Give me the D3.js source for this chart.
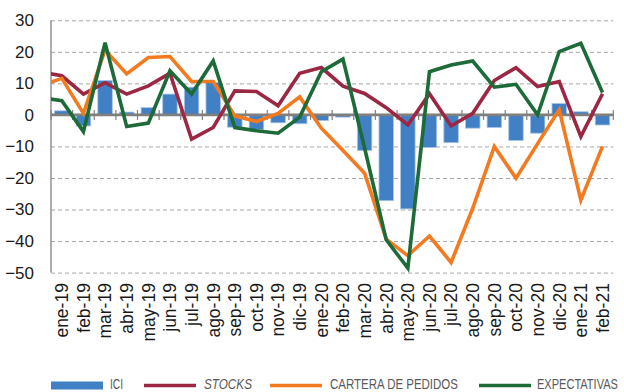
<!DOCTYPE html>
<html>
<head>
<meta charset="utf-8">
<script src="https://cdn.jsdelivr.net/npm/d3@7"></script>
<style>
  html, body { margin: 0; padding: 0; background: #fff; }
  svg { display: block; }
  text { font-family: "Liberation Sans", Arial, Helvetica, sans-serif; }
</style>
</head>
<body>
<svg id="chart" width="624" height="392"></svg>
<script>
// Monthly categories
const months = ['ene-19','feb-19','mar-19','abr-19','may-19','jun-19','jul-19','ago-19','sep-19','oct-19','nov-19','dic-19',
                'ene-20','feb-20','mar-20','abr-20','may-20','jun-20','jul-20','ago-20','sep-20','oct-20','nov-20','dic-20',
                'ene-21','feb-21'];

// ICI (bars)
const ici = [1.3, -3.5, 10.9, 0.9, 2.3, 6.6, 8.8, 10.3, -3.9, -4.6, -2.5, -2.8,
             -1.8, -0.7, -11.3, -27.2, -29.8, -10.3, -8.8, -4.2, -4.0, -8.1, -5.8, 3.6,
             1.0, -3.2];

// Stocks
const stocks = [12.4, 6.6, 10.2, 6.6, 9.2, 13.2, -7.7, -4.0, 7.6, 7.4, 2.9, 13.2,
                15.0, 9.1, 6.8, 2.3, -3.2, 6.7, -3.5, 0.5, 10.9, 15.0, 9.0, 10.6,
                -6.9, 6.7];

// Cartera de pedidos
const cartera = [11.6, 0.5, 20.6, 13.0, 18.2, 18.5, 10.6, 10.6, -0.3, -2.1, 0.5, 5.7,
                 -4.2, -11.3, -18.5, -39.4, -44.6, -38.4, -46.8, -29.6, -10.0, -20.1, -9.1, 1.6,
                 -27.0, -10.0];

// Expectativas
const expectativas = [4.5, -5.3, 22.9, -3.7, -2.6, 14.0, 6.6, 17.1, -4.0, -5.0, -5.8, -0.7,
                      13.7, 17.7, -10.5, -39.6, -48.6, 13.7, 15.8, 17.1, 8.8, 9.7, 0.0, 20.1,
                      22.7, 7.1];

// Values of the month before the first category (dic-18); only the segment up to the axis is visible
const leadStocks = 13.6;
const leadCartera = 9.2;
const leadExpectativas = 5.5;

const yTicks = [30, 20, 10, 0, -10, -20, -30, -40, -50];

const legendLabels = ['ICI', 'STOCKS', 'CARTERA DE PEDIDOS', 'EXPECTATIVAS'];

const colors = {
  ici: '#4180c4',
  stocks: '#9b2743',
  cartera: '#f47a20',
  expectativas: '#1d6b38'
};

const svg = d3.select('#chart');
const plotLeft = 51, plotRight = 613.3, plotTop = 20.3, plotBottom = 272.6;

const x = d3.scaleBand().domain(months).range([plotLeft, plotRight]).paddingInner(0.33).paddingOuter(0.165);
const y = d3.scaleLinear().domain([-50, 30]).range([plotBottom, plotTop]);
const step = x.step();
const cx = d3.scaleLinear().domain([0, months.length - 1])
  .range([x(months[0]) + x.bandwidth() / 2, x(months[months.length - 1]) + x.bandwidth() / 2]);

// Dashed gridlines
const grid = svg.append('g').attr('transform', `translate(${plotLeft},0)`)
  .call(d3.axisLeft(y).tickValues(yTicks.filter(v => v !== 0)).tickSize(-(plotRight - plotLeft)).tickFormat(''));
grid.select('.domain').remove();
grid.selectAll('line').attr('stroke', '#a6a6a6').attr('stroke-width', 1).attr('stroke-dasharray', '4,3');

// Y labels
const yAxis = svg.append('g').attr('transform', `translate(${plotLeft},0)`)
  .call(d3.axisLeft(y).tickValues(yTicks).tickSize(0).tickPadding(17).tickFormat(d3.format('d')));
yAxis.select('.domain').remove();
yAxis.selectAll('text').attr('font-size', 17).attr('fill', '#1a1a1a')
  .attr('font-family', '"Liberation Sans", Arial, sans-serif');

// Bars
svg.append('g').selectAll('rect').data(ici).join('rect')
  .attr('x', (d, i) => x(months[i]))
  .attr('width', x.bandwidth())
  .attr('y', d => y(Math.max(0, d)))
  .attr('height', d => Math.abs(y(d) - y(0)))
  .attr('fill', colors.ici)
  .attr('stroke', '#a8c4e6')
  .attr('stroke-width', 0.8);

// Vertical axis line
svg.append('line').attr('x1', plotLeft).attr('x2', plotLeft).attr('y1', plotTop).attr('y2', plotBottom)
  .attr('stroke', '#808080').attr('stroke-width', 1.3);

// Zero line
svg.append('line').attr('x1', plotLeft).attr('x2', plotRight).attr('y1', y(0)).attr('y2', y(0))
  .attr('stroke', '#7f7f7f').attr('stroke-width', 2.6);

// Category tick marks crossing the zero line
svg.append('g').selectAll('line').data(d3.range(months.length + 1)).join('line')
  .attr('x1', k => plotLeft + k * step).attr('x2', k => plotLeft + k * step)
  .attr('y1', y(0) - 5).attr('y2', y(0) + 5)
  .attr('stroke', '#808080').attr('stroke-width', 1.2);

// Category labels
const xAxis = svg.append('g').attr('transform', `translate(0,${plotBottom})`)
  .call(d3.axisBottom(x).tickSize(0));
xAxis.select('.domain').remove();
xAxis.selectAll('text')
  .attr('transform', 'rotate(-90)')
  .attr('x', -10.5).attr('y', 0).attr('dy', '0.36em')
  .attr('text-anchor', 'end')
  .attr('font-size', 17.5).attr('fill', '#1a1a1a')
  .attr('font-family', '"Liberation Sans", Arial, sans-serif');

// Lines, clipped to the plot area
svg.append('clipPath').attr('id', 'plot-clip').append('rect')
  .attr('x', plotLeft).attr('y', 0).attr('width', plotRight - plotLeft + 5).attr('height', 300);

const line = d3.line().x(d => cx(d.i)).y(d => y(d.v));
const series = [
  { lead: leadStocks, values: stocks, color: colors.stocks },
  { lead: leadCartera, values: cartera, color: colors.cartera },
  { lead: leadExpectativas, values: expectativas, color: colors.expectativas }
];
const lines = svg.append('g').attr('clip-path', 'url(#plot-clip)');
series.forEach(s => {
  const pts = [{ i: -1, v: s.lead }].concat(s.values.map((v, i) => ({ i, v })));
  lines.append('path').datum(pts)
    .attr('d', line)
    .attr('fill', 'none')
    .attr('stroke', s.color)
    .attr('stroke-width', 3.6)
    .attr('stroke-linejoin', 'miter');
});

// Legend
const legend = svg.append('g');
const ly = 385.5;
legend.append('rect').attr('x', 51).attr('y', ly - 4).attr('width', 52).attr('height', 8).attr('fill', colors.ici);
legend.append('line').attr('x1', 144).attr('x2', 196).attr('y1', ly).attr('y2', ly)
  .attr('stroke', colors.stocks).attr('stroke-width', 3.6);
legend.append('line').attr('x1', 270).attr('x2', 322).attr('y1', ly).attr('y2', ly)
  .attr('stroke', colors.cartera).attr('stroke-width', 3.6);
legend.append('line').attr('x1', 479).attr('x2', 531).attr('y1', ly).attr('y2', ly)
  .attr('stroke', colors.expectativas).attr('stroke-width', 3.6);

// Condensed legend labels: horizontally squeezed to their target widths
const legendText = [
  { t: legendLabels[0], x: 110, w: 13, italic: false },
  { t: legendLabels[1], x: 204, w: 48, italic: true },
  { t: legendLabels[2], x: 330, w: 128, italic: false },
  { t: legendLabels[3], x: 537, w: 81, italic: false }
];
legend.selectAll('text').data(legendText).join('text')
  .attr('x', 0).attr('y', 0)
  .attr('font-size', 15)
  .attr('fill', '#595959')
  .attr('font-style', d => d.italic ? 'italic' : 'normal')
  .text(d => d.t)
  .attr('transform', function (d) {
    const natural = this.getComputedTextLength();
    return `translate(${d.x},389) scale(${d.w / natural},1)`;
  });
</script>
</body>
</html>
